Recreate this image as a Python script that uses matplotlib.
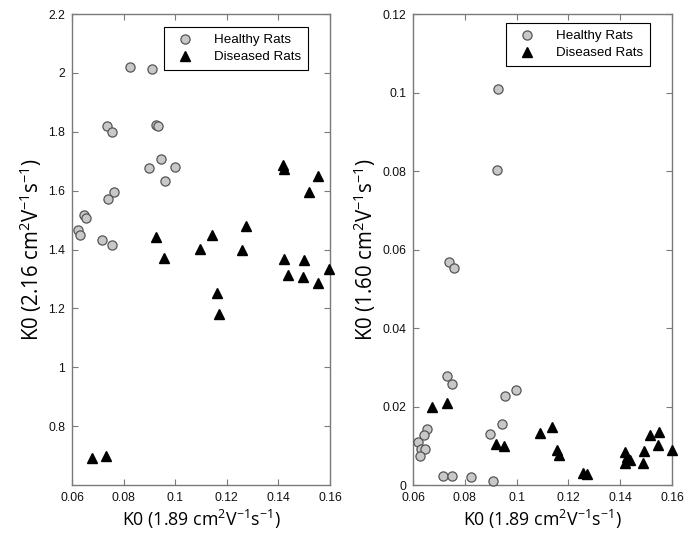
import matplotlib
matplotlib.use("Agg")
import matplotlib.pyplot as plt

# Left panel data
left_healthy_x = [0.0826, 0.0911, 0.0737, 0.0756, 0.0925, 0.0932, 0.0945, 0.0900, 0.1000,
                  0.0959, 0.0762, 0.0741, 0.0647, 0.0654, 0.0624, 0.0631, 0.0718, 0.0754]
left_healthy_y = [2.019, 2.015, 1.821, 1.798, 1.823, 1.819, 1.709, 1.676, 1.682,
                  1.634, 1.594, 1.573, 1.519, 1.507, 1.468, 1.450, 1.434, 1.414]
left_diseased_x = [0.1419, 0.1422, 0.1553, 0.1520, 0.1276, 0.1143, 0.0924, 0.1095, 0.1260, 0.0958,
                   0.1422, 0.1498, 0.1437, 0.1495, 0.1552, 0.1598, 0.1161, 0.1170, 0.0676, 0.0733]
left_diseased_y = [1.686, 1.675, 1.649, 1.594, 1.479, 1.448, 1.441, 1.402, 1.398, 1.372,
                   1.368, 1.366, 1.315, 1.305, 1.286, 1.335, 1.253, 1.180, 0.692, 0.698]

# Right panel data
right_healthy_x = [0.0929, 0.0926, 0.0738, 0.0759, 0.0732, 0.0752, 0.0997, 0.0955, 0.0944, 0.0897,
                   0.0653, 0.0644, 0.0619, 0.0630, 0.0646, 0.0626, 0.0715, 0.0751, 0.0824, 0.0909]
right_healthy_y = [0.1008, 0.0803, 0.0568, 0.0552, 0.0278, 0.0258, 0.0242, 0.0226, 0.0156, 0.0130,
                   0.0142, 0.0127, 0.0109, 0.0092, 0.0093, 0.0075, 0.0024, 0.0024, 0.0021, 0.0011]
right_diseased_x = [0.0673, 0.0730, 0.1090, 0.1138, 0.0920, 0.0953, 0.1155, 0.1164, 0.1255, 0.1272,
                    0.1419, 0.1425, 0.1437, 0.1418, 0.1492, 0.1488, 0.1515, 0.1549, 0.1547, 0.1599]
right_diseased_y = [0.0199, 0.0208, 0.0132, 0.0148, 0.0105, 0.0100, 0.0090, 0.0077, 0.0030, 0.0028,
                    0.0083, 0.0072, 0.0063, 0.0057, 0.0086, 0.0057, 0.0128, 0.0136, 0.0103, 0.0088]

x_ticks = [0.06, 0.08, 0.1, 0.12, 0.14, 0.16]
x_ticklabels = ["0.06", "0.08", "0.1", "0.12", "0.14", "0.16"]
left_y_ticks = [0.8, 1.0, 1.2, 1.4, 1.6, 1.8, 2.0, 2.2]
left_y_ticklabels = ["0.8", "1", "1.2", "1.4", "1.6", "1.8", "2", "2.2"]
right_y_ticks = [0, 0.02, 0.04, 0.06, 0.08, 0.1, 0.12]
right_y_ticklabels = ["0", "0.02", "0.04", "0.06", "0.08", "0.1", "0.12"]

x_label = "K0 (1.89 cm$^{2}$V$^{-1}$s$^{-1}$)"
left_y_label = "K0 (2.16 cm$^{2}$V$^{-1}$s$^{-1}$)"
right_y_label = "K0 (1.60 cm$^{2}$V$^{-1}$s$^{-1}$)"
legend_labels = ["Healthy Rats", "Diseased Rats"]

plt.rcParams['mathtext.fontset'] = 'custom'
plt.rcParams['mathtext.rm'] = 'Open Sans'
plt.rcParams['mathtext.it'] = 'Open Sans'

fig = plt.figure(figsize=(6.98, 5.36), dpi=100)
ax1 = fig.add_axes([0.1032, 0.0951, 0.3696, 0.8787])
ax2 = fig.add_axes([0.5917, 0.0951, 0.3711, 0.8787])

frame_col = "#7a7a7a"
tick_font = dict(family="Liberation Sans", size=8.8)
xlabel_font = dict(family="Open Sans", size=12.8)
ylabel_font = dict(family="Open Sans", size=14.8)

def style(ax, xt, xtl, yt, ytl, ylim, ylabel, ypad):
    ax.set_xlim(0.06, 0.16)
    ax.set_ylim(*ylim)
    ax.set_xticks(xt)
    ax.set_xticklabels(xtl, **tick_font)
    ax.set_yticks(yt)
    ax.set_yticklabels(ytl, **tick_font)
    ax.tick_params(direction="in", top=True, right=True, length=4, width=0.8,
                   color=frame_col, labelcolor="#111111", pad=5)
    for s in ax.spines.values():
        s.set_color(frame_col)
        s.set_linewidth(1.0)
    ax.set_xlabel(x_label, **xlabel_font, labelpad=3)
    ax.set_ylabel(ylabel, **ylabel_font, labelpad=ypad)

def draw(ax, hx, hy, dx, dy, top):
    ax.plot(hx, hy, linestyle="none", marker="o", markersize=6.6,
            markerfacecolor="#c8c8c8", markeredgecolor="#555555", markeredgewidth=0.9,
            label=legend_labels[0], clip_on=False, zorder=3)
    ax.plot(dx, dy, linestyle="none", marker="^", markersize=7.2,
            markerfacecolor="black", markeredgecolor="black",
            label=legend_labels[1], clip_on=False, zorder=3)
    leg = ax.legend(loc="upper right", bbox_to_anchor=(0.915, top), fancybox=False,
                    edgecolor="black", framealpha=1, prop=dict(family="Liberation Sans", size=9.6),
                    handletextpad=1.1, borderpad=0.5, labelspacing=0.35, handlelength=2.2,
                    borderaxespad=0)
    leg.get_frame().set_linewidth(0.8)

draw(ax1, left_healthy_x, left_healthy_y, left_diseased_x, left_diseased_y, 0.972)
style(ax1, x_ticks, x_ticklabels, left_y_ticks, left_y_ticklabels, (0.6, 2.2), left_y_label, 3)
draw(ax2, right_healthy_x, right_healthy_y, right_diseased_x, right_diseased_y, 0.98)
style(ax2, x_ticks, x_ticklabels, right_y_ticks, right_y_ticklabels, (0, 0.12), right_y_label, 3)

fig.savefig("out.png", dpi=100)
